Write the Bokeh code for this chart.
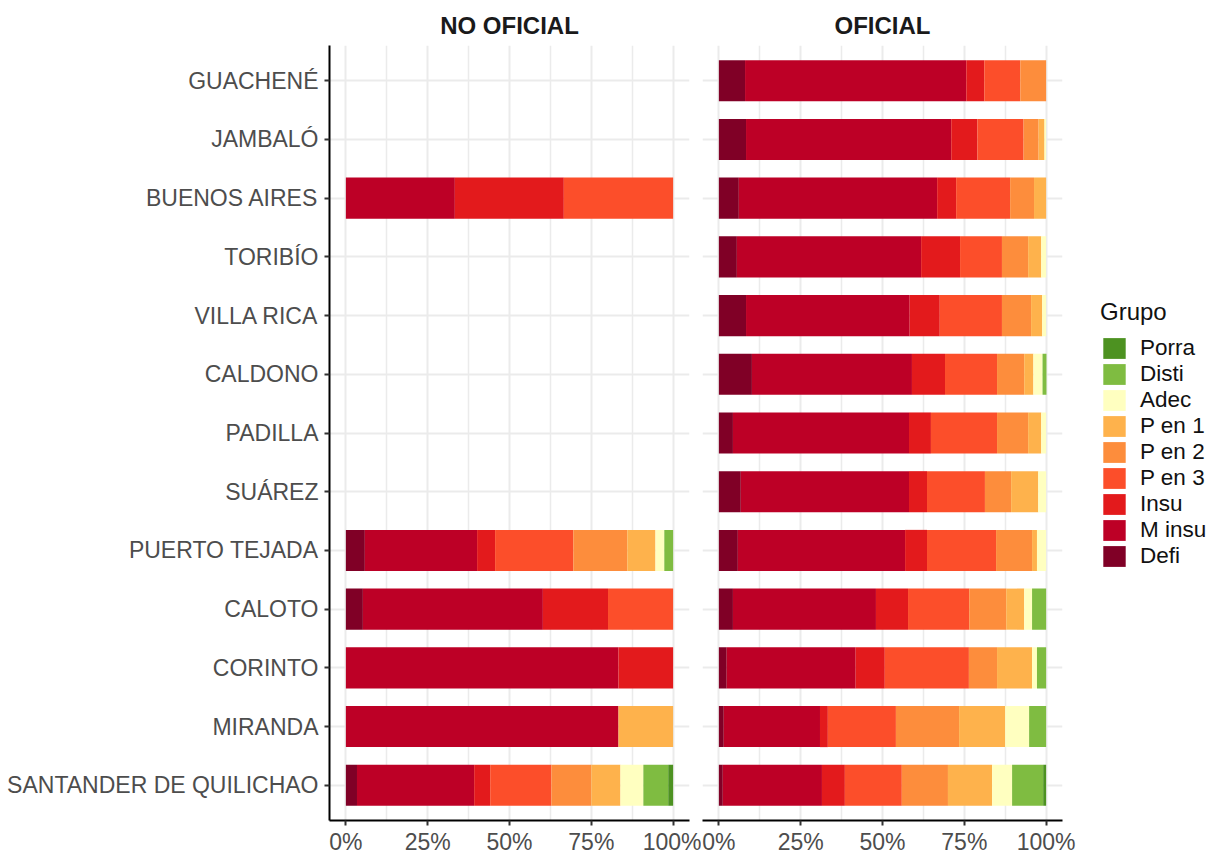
from bokeh.plotting import figure
from bokeh.layouts import row
from bokeh.models import (ColumnDataSource, FactorRange, Range1d, FixedTicker,
                          Legend, LegendItem, PrintfTickFormatter)
from bokeh.embed import file_html
from bokeh.resources import INLINE

FONT = "Liberation Sans"

municipios = ["GUACHENÉ", "JAMBALÓ", "BUENOS AIRES", "TORIBÍO", "VILLA RICA",
              "CALDONO", "PADILLA", "SUÁREZ", "PUERTO TEJADA", "CALOTO",
              "CORINTO", "MIRANDA", "SANTANDER DE QUILICHAO"]

grupos = ["Defi", "M insu", "Insu", "P en 3", "P en 2", "P en 1", "Adec", "Disti", "Porra"]
claves = ["defi", "m_insu", "insu", "p3", "p2", "p1", "adec", "disti", "porra"]
colores = ["#800026", "#BD0026", "#E31A1C", "#FC4E2A", "#FD8D3C", "#FEB24C",
           "#FFFFC0", "#7FBC41", "#4D9221"]

x_ticks = [0, 25, 50, 75, 100]
x_minor = [12.5, 37.5, 62.5, 87.5]

# NO OFICIAL (% por municipio, mismo orden que `municipios`)
no_defi   = [0, 0, 0,    0, 0, 0, 0, 0, 5.8,  5.2,  0,    0,    3.4]
no_m_insu = [0, 0, 33.3, 0, 0, 0, 0, 0, 34.3, 55.0, 83.3, 83.3, 35.8]
no_insu   = [0, 0, 33.3, 0, 0, 0, 0, 0, 5.5,  19.9, 16.7, 0,    4.9]
no_p3     = [0, 0, 33.4, 0, 0, 0, 0, 0, 23.9, 19.9, 0,    0,    18.7]
no_p2     = [0, 0, 0,    0, 0, 0, 0, 0, 16.5, 0,    0,    0,    12.2]
no_p1     = [0, 0, 0,    0, 0, 0, 0, 0, 8.6,  0,    0,    16.7, 8.9]
no_adec   = [0, 0, 0,    0, 0, 0, 0, 0, 2.7,  0,    0,    0,    7.0]
no_disti  = [0, 0, 0,    0, 0, 0, 0, 0, 2.7,  0,    0,    0,    7.6]
no_porra  = [0, 0, 0,    0, 0, 0, 0, 0, 0,    0,    0,    0,    1.5]

# OFICIAL
of_defi   = [8.0, 8.3, 6.1, 5.5, 8.3, 10.1, 4.3, 6.7, 5.8, 4.3, 2.4, 1.5, 1.2]
of_m_insu = [67.6, 62.7, 60.6, 56.3, 50.0, 48.9, 53.8, 51.4, 51.1, 43.7, 39.4, 29.4, 30.3]
of_insu   = [5.5, 8.0, 5.8, 11.9, 9.2, 10.1, 6.7, 5.5, 6.7, 9.8, 8.9, 2.4, 7.0]
of_p3     = [11.0, 14.1, 16.5, 12.8, 19.0, 15.9, 20.2, 17.7, 21.1, 18.7, 25.7, 20.8, 17.4]
of_p2     = [7.9, 4.6, 7.3, 8.0, 8.9, 8.3, 9.5, 8.0, 11.0, 11.3, 8.6, 19.3, 14.1]
of_p1     = [0, 1.8, 3.7, 4.0, 3.4, 2.8, 4.0, 8.3, 1.5, 5.5, 10.7, 14.1, 13.5]
of_adec   = [0, 0.5, 0, 1.5, 1.2, 2.8, 1.5, 2.4, 2.8, 2.4, 1.5, 7.3, 6.1]
of_disti  = [0, 0, 0, 0, 0, 1.2, 0, 0, 0, 4.3, 2.8, 5.2, 9.5]
of_porra  = [0, 0, 0, 0, 0, 0, 0, 0, 0, 0, 0, 0, 0.9]

no_cols = [no_defi, no_m_insu, no_insu, no_p3, no_p2, no_p1, no_adec, no_disti, no_porra]
of_cols = [of_defi, of_m_insu, of_insu, of_p3, of_p2, of_p1, of_adec, of_disti, of_porra]

y_range = FactorRange(factors=list(reversed(municipios)),
                      range_padding=0.1, range_padding_units="absolute")

GRID = "#EBEBEB"
FRAME_H = 775


def panel(title, cols, min_left, min_right):
    data = dict(municipio=municipios)
    for k, c in zip(claves, cols):
        data[k] = c
    src = ColumnDataSource(data)
    p = figure(y_range=y_range, x_range=Range1d(-5, 105),
               frame_width=360, frame_height=FRAME_H,
               min_border_left=min_left, min_border_right=min_right,
               min_border_top=45, min_border_bottom=0,
               output_backend="svg", toolbar_location=None, title=title)
    rends = p.hbar_stack(claves, y="municipio", height=0.7, source=src,
                         fill_color=colores, line_color=None)
    p.outline_line_color = None
    p.background_fill_color = "white"
    p.border_fill_color = "white"

    p.title.text_font = FONT
    p.title.text_font_size = "24px"
    p.title.text_font_style = "bold"
    p.title.text_color = "#1A1A1A"
    p.title.align = "center"
    p.title.standoff = 14

    p.xgrid.ticker = FixedTicker(ticks=x_ticks, minor_ticks=x_minor)
    p.xgrid.grid_line_color = GRID
    p.xgrid.grid_line_width = 2
    p.xgrid.minor_grid_line_color = GRID
    p.xgrid.minor_grid_line_width = 1.5
    p.ygrid.grid_line_color = GRID
    p.ygrid.grid_line_width = 2

    xa = p.xaxis[0]
    xa.ticker = FixedTicker(ticks=x_ticks, minor_ticks=x_minor)
    xa.formatter = PrintfTickFormatter(format="%d%%")
    ya = p.yaxis[0]
    for ax in (xa, ya):
        ax.axis_line_color = "black"
        ax.axis_line_width = 2
        ax.major_tick_line_color = "#333333"
        ax.major_tick_line_width = 2
        ax.major_tick_out = 5
        ax.major_tick_in = 0
        ax.minor_tick_line_color = None
        ax.major_label_text_font = FONT
        ax.major_label_text_font_size = "23px"
        ax.major_label_text_color = "#4D4D4D"
    xa.major_label_standoff = 3
    ya.major_label_standoff = 6
    return p, rends


p1, _ = panel("NO OFICIAL", no_cols, 329, 12)
p2, rends = panel("OFICIAL", of_cols, 1, 158)
p2.yaxis.visible = False

items = [LegendItem(label=g, renderers=[r])
         for g, r in reversed(list(zip(grupos, rends)))]
legend = Legend(items=items, title="Grupo", location=(38, 251),
                padding=0, margin=0, spacing=0,
                glyph_width=28, glyph_height=26, label_standoff=12,
                border_line_color=None, background_fill_alpha=0,
                label_text_font=FONT, label_text_font_size="22.5px",
                label_text_color="#111111",
                title_text_font=FONT, title_text_font_size="24px",
                title_text_font_style="normal", title_text_color="#111111",
                title_standoff=9)
p2.add_layout(legend, "right")

layout = row(p1, p2)
open("out.html", "w").write(file_html(layout, INLINE))
